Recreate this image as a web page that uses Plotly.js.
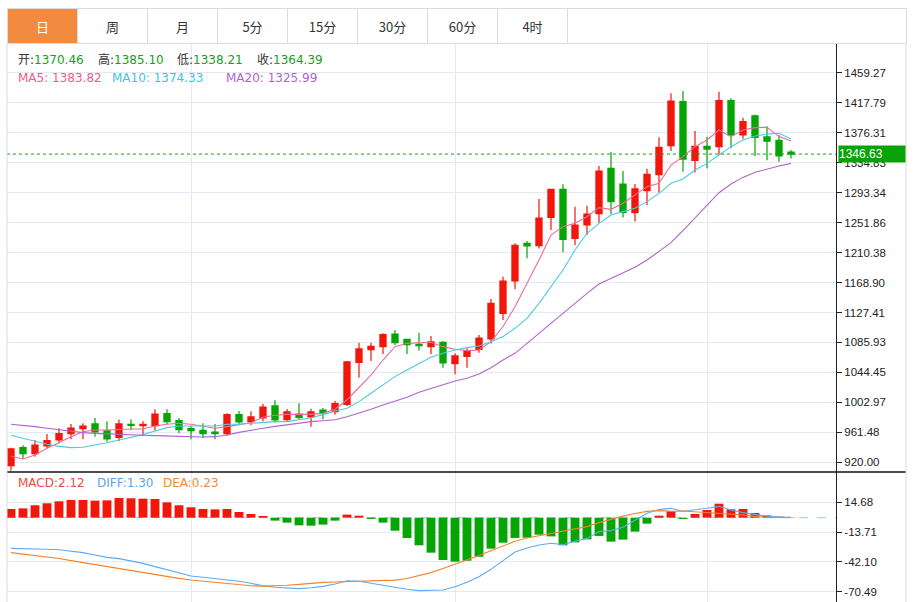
<!DOCTYPE html>
<html>
<head>
<meta charset="utf-8">
<script src="https://cdn.plot.ly/plotly-3.0.1.min.js"></script>
<style>
  html, body { margin: 0; padding: 0; background: #fff; }
  #wrap { position: relative; width: 914px; height: 602px; overflow: hidden; }
  #chart { position: absolute; left: 0; top: 0; width: 914px; height: 602px; }
  #tabs { position: absolute; left: 7px; top: 8px; width: 900px; height: 36px; box-sizing: border-box;
          border: 1px solid #dcdcdc; border-bottom: 1px solid #dcdcdc; display: flex; background: #fff; }
  .tab { width: 70px; height: 34px; box-sizing: border-box; border-right: 1px solid #dcdcdc;
         font: 13px "Noto Sans CJK SC", "Noto Sans", sans-serif; color: #333; display: flex;
         align-items: center; justify-content: center; }
  .tab.active { background: #f28b3f; color: #fff; }
</style>
</head>
<body>
<div id="wrap">
  <div id="chart"></div>
  <div id="tabs"></div>
</div>
<script>
// ---------------- data ----------------
const tabLabels = ["日", "周", "月", "5分", "15分", "30分", "60分", "4时"];

const open = [915.4, 940.3, 932.0, 942.6, 950.9, 959.7, 966.6, 973.1, 963.4, 954.6,
  972.6, 970.8, 970.8, 987.4, 977.7, 966.6, 964.3, 962.0, 959.7, 986.0,
  976.3, 981.4, 998.0, 979.1, 986.9, 982.8, 992.4, 990.1, 1000.3, 1058.4,
  1076.0, 1080.1, 1097.6, 1090.3, 1083.3, 1080.1, 1086.1, 1056.6, 1066.7, 1076.4,
  1090.7, 1126.2, 1171.0, 1223.1, 1219.8, 1259.1, 1297.9, 1230.0, 1248.5, 1264.1,
  1326.9, 1305.2, 1265.6, 1296.0, 1318.1, 1358.3, 1419.2, 1338.0, 1357.3, 1356.9,
  1420.6, 1373.1, 1399.4, 1370.46, 1365.7, 1349.5];
const high = [940.3, 943.5, 950.9, 959.2, 967.1, 973.1, 974.0, 981.4, 976.8, 979.1,
  979.1, 976.8, 993.4, 993.4, 981.4, 970.3, 974.0, 973.1, 987.8, 991.1,
  990.6, 1000.7, 1005.8, 993.8, 1001.7, 994.3, 995.2, 1004.9, 1060.3, 1085.6,
  1085.6, 1098.6, 1103.2, 1091.2, 1099.5, 1094.9, 1088.0, 1070.9, 1077.8, 1096.3,
  1146.0, 1177.0, 1223.1, 1226.3, 1284.4, 1298.8, 1304.8, 1273.9, 1275.2, 1330.1,
  1349.5, 1323.2, 1305.2, 1326.4, 1369.8, 1430.7, 1433.9, 1378.6, 1370.8, 1433.0,
  1423.8, 1397.1, 1401.3, 1385.10, 1373.1, 1352.3];
const low = [908.5, 925.1, 927.8, 939.4, 946.3, 951.8, 951.8, 955.5, 948.6, 949.1,
  964.8, 956.5, 963.8, 973.1, 960.1, 951.8, 953.2, 951.8, 956.9, 973.1,
  971.2, 976.8, 974.9, 976.8, 978.6, 969.4, 979.5, 986.0, 998.0, 1037.2,
  1060.3, 1070.0, 1082.4, 1070.0, 1074.6, 1070.0, 1051.0, 1041.8, 1051.0, 1071.8,
  1084.3, 1117.0, 1159.4, 1202.3, 1216.1, 1241.6, 1210.6, 1220.8, 1234.6, 1251.7,
  1263.3, 1258.7, 1253.4, 1276.1, 1293.3, 1350.9, 1322.3, 1321.0, 1326.9, 1345.3,
  1354.6, 1368.0, 1343.9, 1338.21, 1336.1, 1340.7];
const close = [938.5, 932.0, 944.0, 950.0, 959.7, 967.5, 970.3, 962.0, 952.3, 973.1,
  971.2, 972.6, 986.9, 976.3, 965.2, 963.8, 959.7, 959.7, 986.0, 975.8,
  982.8, 996.6, 978.6, 989.7, 982.3, 989.7, 988.7, 1001.2, 1058.9, 1076.9,
  1080.6, 1096.7, 1085.6, 1082.9, 1081.5, 1086.6, 1057.5, 1067.2, 1074.1, 1092.1,
  1140.0, 1171.0, 1220.3, 1219.4, 1258.2, 1297.9, 1228.6, 1248.5, 1263.7, 1323.2,
  1280.7, 1266.0, 1298.4, 1318.6, 1355.9, 1420.1, 1339.8, 1357.3, 1353.6, 1420.6,
  1373.1, 1391.5, 1369.8, 1364.39, 1344.0, 1346.63];

const ma5 = [928.3, 924.6, 930.2, 939.4, 947.2, 955.5, 962.4, 964.8, 964.8, 965.7,
  966.1, 966.1, 970.3, 972.6, 974.0, 972.6, 970.3, 967.1, 969.4, 972.6,
  974.9, 982.3, 985.1, 986.4, 986.4, 986.4, 987.8, 993.4, 1006.3, 1023.8,
  1040.9, 1061.6, 1080.1, 1084.7, 1085.6, 1086.1, 1080.1, 1076.4, 1074.6, 1075.5,
  1087.0, 1108.0, 1135.4, 1167.7, 1200.0, 1234.6, 1246.2, 1250.8, 1260.0, 1272.5,
  1270.2, 1278.5, 1290.0, 1301.6, 1306.2, 1331.5, 1343.1, 1356.9, 1366.1, 1380.0,
  1370.8, 1380.0, 1383.2, 1383.82, 1370.8, 1364.7];
const ma10 = [957.4, 953.2, 948.6, 944.9, 942.1, 940.3, 940.8, 943.5, 947.2, 950.9,
  954.6, 958.3, 963.4, 968.0, 970.3, 970.3, 969.8, 970.3, 972.6, 972.6,
  974.0, 975.4, 976.3, 976.3, 978.6, 981.8, 986.0, 991.1, 994.7, 1004.0,
  1015.5, 1027.0, 1038.6, 1047.8, 1057.0, 1065.3, 1070.9, 1075.5, 1078.7, 1081.0,
  1087.0, 1094.0, 1105.5, 1119.3, 1140.1, 1163.1, 1186.2, 1213.9, 1237.0, 1250.8,
  1262.3, 1267.0, 1271.6, 1280.8, 1292.3, 1306.2, 1312.1, 1324.6, 1333.8, 1345.3,
  1356.9, 1366.1, 1371.6, 1374.33, 1375.4, 1367.5];
const ma20 = [972.6, 971.2, 969.4, 967.1, 964.8, 962.4, 961.1, 960.1, 959.2, 958.8,
  957.8, 957.4, 956.9, 956.5, 956.0, 955.1, 955.1, 955.5, 957.8, 961.5,
  964.8, 967.1, 969.8, 972.1, 974.4, 976.3, 977.5, 979.0, 983.2, 987.8,
  993.4, 999.4, 1004.9, 1010.0, 1016.9, 1022.4, 1027.5, 1032.6, 1036.3, 1042.3,
  1051.0, 1061.6, 1070.9, 1084.7, 1098.6, 1113.3, 1126.2, 1140.1, 1153.9, 1166.8,
  1174.6, 1181.6, 1189.9, 1200.0, 1211.6, 1224.0, 1240.6, 1257.7, 1276.1, 1293.2,
  1305.2, 1314.4, 1321.4, 1325.99, 1330.1, 1333.8];

const macdHist = [8.3, 8.9, 11.8, 13.7, 15.6, 16.9, 16.9, 16.2, 16.5, 18.8,
  18.5, 18.1, 17.8, 14.6, 11.8, 9.9, 8.3, 7.9, 8.3, 5.4,
  3.5, 1.6, -2.8, -4.7, -7.3, -7.6, -6.6, -2.8, 2.9, 1.9,
  -1.2, -4.7, -12.4, -19.4, -26.3, -33.3, -40.3, -41.9, -41.0, -37.2,
  -29.5, -23.8, -19.3, -19.0, -16.2, -17.8, -26.3, -23.5, -20.6, -17.4,
  -22.8, -20.9, -13.3, -5.7, 1.9, 6.1, -1.2, 3.5, 7.3, 13.3,
  8.0, 8.3, 4.5, 2.12, 1.0, 0.3];
const diff = [-29.2, -29.3, -29.5, -30.0, -30.5, -31.7, -33.3, -35.5, -37.8, -39.0,
  -41.3, -43.5, -46.6, -49.8, -53.0, -55.5, -56.8, -58.1, -58.7, -60.6,
  -62.5, -64.8, -66.3, -67.0, -67.6, -66.7, -65.4, -63.2, -60.0, -60.6,
  -62.5, -64.8, -67.0, -68.2, -69.5, -69.5, -68.9, -65.7, -61.6, -56.2,
  -49.2, -40.9, -32.7, -28.9, -26.0, -24.4, -25.7, -22.5, -19.7, -13.3,
  -12.3, -9.2, -2.8, 4.2, 7.7, 8.9, 6.1, 7.3, 8.9, 10.8,
  7.3, 4.8, 2.9, 1.30, 0.7, 0.35];
const dea = [-33.3, -34.6, -35.9, -37.3, -38.9, -40.9, -42.8, -45.1, -46.7, -48.6,
  -50.5, -52.5, -54.3, -56.2, -57.8, -59.4, -60.6, -61.9, -62.9, -64.1,
  -64.8, -65.2, -65.1, -64.4, -63.5, -62.5, -61.6, -61.3, -60.9, -60.9,
  -60.6, -60.2, -59.5, -58.0, -55.5, -52.3, -48.3, -44.3, -40.3, -36.0,
  -31.5, -27.0, -22.5, -19.3, -17.0, -14.9, -12.6, -10.4, -8.5, -4.7,
  -1.5, 1.5, 4.0, 6.0, 6.7, 6.1, 6.4, 5.6, 5.4, 4.6,
  3.7, 2.6, 1.2, 0.23, 0.2, 0.1];

const priceTicks = [920.00, 961.48, 1002.97, 1044.45, 1085.93, 1127.41, 1168.90,
  1210.38, 1251.86, 1293.34, 1334.83, 1376.31, 1417.79, 1459.27];
const macdTicks = [14.68, -13.71, -42.10, -70.49];
const monthBreaks = [15, 37, 58];
const lastPrice = 1346.63;
const info = { open: "1370.46", high: "1385.10", low: "1338.21", close: "1364.39",
  ma5: "1383.82", ma10: "1374.33", ma20: "1325.99", macd: "2.12", diff: "1.30", dea: "0.23" };

// ---------------- tabs (real text) ----------------
const tabsEl = document.getElementById("tabs");
tabLabels.forEach((t, i) => {
  const d = document.createElement("div");
  d.className = "tab" + (i === 0 ? " active" : "");
  d.textContent = t;
  tabsEl.appendChild(d);
});

// ---------------- chart ----------------
const idx = close.map((_, i) => i);
const RED = "#f2170b", GREEN = "#05a505";
const W = 914, H = 602, ML = 7, MR = 78, MT = 43, MB = 0;
const PW = W - ML - MR, PH = H - MT - MB;
const px = x => (x - ML) / PW;
const py = y => (H - MB - y) / PH;
const split = py(472);

const traces = [
  { type: "candlestick", x: idx, open: open, high: high, low: low, close: close,
    xaxis: "x", yaxis: "y", whiskerwidth: 0, hoverinfo: "skip",
    increasing: { line: { color: RED, width: 1.2 }, fillcolor: RED },
    decreasing: { line: { color: GREEN, width: 1.2 }, fillcolor: GREEN } },
  { type: "scatter", mode: "lines", x: idx, y: ma5, line: { color: "#ef6a96", width: 1.1 }, xaxis: "x", yaxis: "y", hoverinfo: "skip" },
  { type: "scatter", mode: "lines", x: idx, y: ma10, line: { color: "#4ccbe3", width: 1.1 }, xaxis: "x", yaxis: "y", hoverinfo: "skip" },
  { type: "scatter", mode: "lines", x: idx, y: ma20, line: { color: "#b462cd", width: 1.1 }, xaxis: "x", yaxis: "y", hoverinfo: "skip" },
  { type: "bar", x: idx, y: macdHist, width: 0.74, xaxis: "x2", yaxis: "y2", hoverinfo: "skip",
    marker: { color: macdHist.map(v => v >= 0 ? RED : GREEN), line: { width: 0 } } },
  { type: "scatter", mode: "lines", x: idx, y: diff, line: { color: "#5eabf2", width: 1.1 }, xaxis: "x2", yaxis: "y2", hoverinfo: "skip" },
  { type: "scatter", mode: "lines", x: idx, y: dea, line: { color: "#f5832a", width: 1.1 }, xaxis: "x2", yaxis: "y2", hoverinfo: "skip" }
];

const gridColor = "#e3eaf1";
const xBase = { range: [-0.333, 68.75], tickvals: monthBreaks, showticklabels: false, ticks: "",
  showgrid: true, gridcolor: gridColor, zeroline: false, showline: false, fixedrange: true };
const tickFont = { family: "Liberation Sans, Arial, sans-serif", size: 11.5, color: "#222" };

const mkAnn = (x, y, html) => ({ xref: "paper", yref: "paper", x: px(x), y: py(y),
  xanchor: "left", yanchor: "middle", showarrow: false, text: html, borderpad: 0,
  font: { family: "DejaVu Sans, Noto Sans CJK SC, sans-serif", size: 12, color: "#333" } });
const g = v => '<span style="color:#19a019">' + v + '</span>';

const annotations = [
  mkAnn(17, 60, '开:' + g(info.open)),
  mkAnn(97, 60, '高:' + g(info.high)),
  mkAnn(176, 60, '低:' + g(info.low)),
  mkAnn(256, 60, '收:' + g(info.close)),
  mkAnn(17, 78, '<span style="color:#ee5b8c">MA5: ' + info.ma5 + '</span>'),
  mkAnn(111, 78, '<span style="color:#3fc4df">MA10: ' + info.ma10 + '</span>'),
  mkAnn(225, 78, '<span style="color:#b35fcf">MA20: ' + info.ma20 + '</span>'),
  mkAnn(17, 483, '<span style="color:#f04b3f">MACD:' + info.macd + '</span>'),
  mkAnn(96, 483, '<span style="color:#5aa6ee">DIFF:' + info.diff + '</span>'),
  mkAnn(162, 483, '<span style="color:#f5893b">DEA:' + info.dea + '</span>'),
  { xref: "paper", yref: "y", x: 1, xshift: 2, y: lastPrice, xanchor: "left", yanchor: "middle",
    showarrow: false, text: lastPrice.toFixed(2), bgcolor: "#09a209", borderpad: 0,
    width: 66, height: 16, align: "left",
    font: { family: "Liberation Sans, Arial, sans-serif", size: 12, color: "#fff" } }
];

const shapes = [
  { type: "line", xref: "paper", yref: "y", x0: 0, x1: 1, y0: lastPrice, y1: lastPrice,
    line: { color: "#12a812", width: 1, dash: "dot" } },
  { type: "line", xref: "paper", yref: "y2", x0: 0, x1: 1, y0: 0, y1: 0,
    line: { color: "#9fcbe5", width: 1, dash: "dash" }, layer: "below" },
  { type: "line", xref: "paper", yref: "paper", x0: 0, x1: px(906), y0: split, y1: split,
    line: { color: "#111", width: 1.5 } },
  { type: "line", xref: "paper", yref: "paper", x0: 0, x1: 0, y0: 0, y1: 1,
    line: { color: "#dcdcdc", width: 1 } },
  { type: "line", xref: "paper", yref: "paper", x0: px(906), x1: px(906), y0: 0, y1: 1,
    line: { color: "#dcdcdc", width: 1 } }
];

const layout = {
  width: W, height: H, margin: { l: ML, r: MR, t: MT, b: MB, pad: 0 },
  paper_bgcolor: "#fff", plot_bgcolor: "#fff", showlegend: false, hovermode: false,
  dragmode: false, boxgap: 0.27, bargap: 0.26,
  xaxis: Object.assign({}, xBase, { anchor: "y", rangeslider: { visible: false } }),
  xaxis2: Object.assign({}, xBase, { anchor: "y2", matches: "x" }),
  yaxis: { domain: [split, 1], range: [906.6, 1500.4], side: "right", anchor: "x",
    tickvals: priceTicks, ticktext: priceTicks.map(v => v.toFixed(2)),
    showgrid: true, gridcolor: gridColor, zeroline: false, showline: true, linecolor: "#222",
    linewidth: 1, ticks: "outside", ticklen: 5, tickcolor: "#222", tickfont: tickFont, fixedrange: true },
  yaxis2: { domain: [0, split], range: [-80.3, 43.5], side: "right", anchor: "x2",
    tickvals: macdTicks, ticktext: macdTicks.map(v => v.toFixed(2)),
    showgrid: true, gridcolor: gridColor, zeroline: false, showline: true, linecolor: "#222",
    linewidth: 1, ticks: "outside", ticklen: 5, tickcolor: "#222", tickfont: tickFont, fixedrange: true },
  annotations: annotations,
  shapes: shapes
};

Plotly.newPlot("chart", traces, layout, { staticPlot: true, displayModeBar: false });
</script>
</body>
</html>
